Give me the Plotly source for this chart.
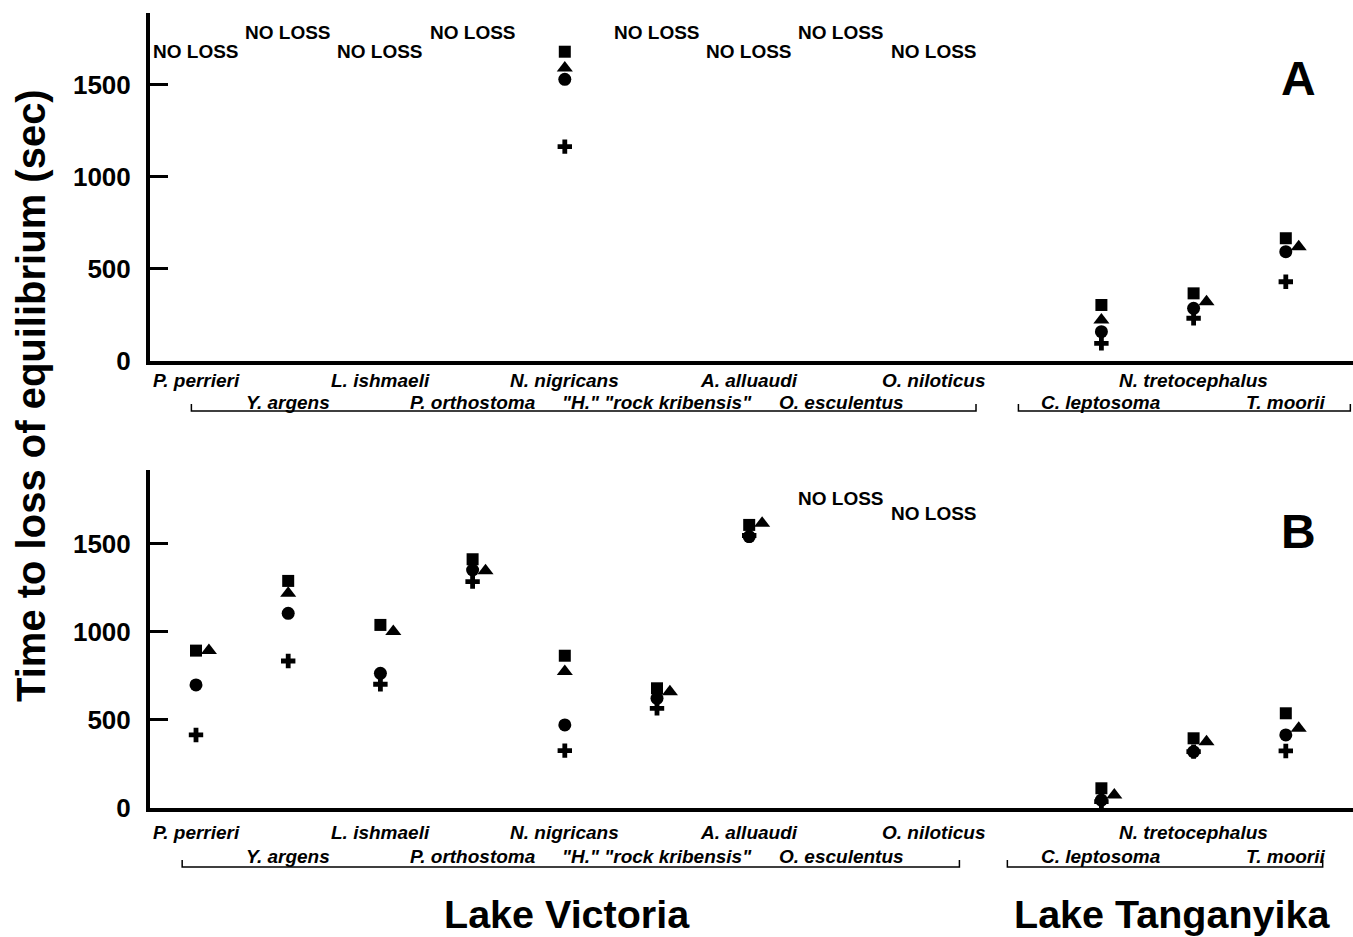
import plotly.graph_objects as go

# ---------------- data ----------------
species = ['P. perrieri', 'Y. argens', 'L. ishmaeli', 'P. orthostoma', 'N. nigricans',
           '"H." "rock kribensis"', 'A. alluaudi', 'O. esculentus', 'O. niloticus',
           'C. leptosoma', 'N. tretocephalus', 'T. moorii']
lake = ['Lake Victoria'] * 9 + ['Lake Tanganyika'] * 3

# Panel A (None = NO LOSS)
a_square   = [None, None, None, None, 1678, None, None, None, None, 304, 367, 666]
a_triangle = [None, None, None, None, 1590, None, None, None, None, 222, 322, 620]
a_circle   = [None, None, None, None, 1528, None, None, None, None, 159, 286, 593]
a_cross    = [None, None, None, None, 1163, None, None, None, None, 96, 232, 430]

# Panel B
b_square   = [894, 1290, 1040, 1413, 865, 680, 1608, None, None, 112, 396, 538]
b_triangle = [894, 1220, 1002, 1348, 775, 661, 1617, None, None, 74, 377, 453]
b_circle   = [699, 1106, 765, 1352, 472, 623, 1542, None, None, 45, 320, 415]
b_cross    = [415, 835, 703, 1286, 326, 566, 1548, None, None, 36, 320, 324]

yticks = [0, 500, 1000, 1500]

# ---------------- layout helpers ----------------
LAKE_GAP = 0.82
xpos = [i + (LAKE_GAP if lake[i] == 'Lake Tanganyika' else 0) for i in range(len(species))]
DODGE = 0.14          # sideways nudge for a triangle that would overlap another marker
OVERLAP = 50          # value distance (sec) considered overlapping

W, H = 1353, 937
ML, MR = 150, 0
PW = W - ML - MR
FONT = 'Liberation Sans, Arial, sans-serif'
X0_PX, UNIT_PX = 196.0, 92.2      # pixel of category 0, pixels per category

def py(p):  # screen pixel y -> paper
    return (H - p) / H

def px(p):  # screen pixel x -> paper
    return (p - ML) / PW

panels = [
    dict(series=[a_square, a_triangle, a_circle, a_cross], dom=(py(361), py(13)), rng=1888,
         nl_hi=1782, nl_lo=1678, row1=381, row2=402, br=411,
         pads=[(0.05, 0.46), (0.9, 0.7)], letter='A', let_y=79, xa='x', ya='y'),
    dict(series=[b_square, b_triangle, b_circle, b_cross], dom=(py(808), py(470)), rng=1920,
         nl_hi=1760, nl_lo=1674, row1=832, row2=856, br=867,
         pads=[(0.15, 0.28), (1.02, 0.4)], letter='B', let_y=531, xa='x2', ya='y2'),
]
symbols = ['square', 'triangle-up', 'circle', 'cross']
sizes = [12, 14, 13, 12]
names = ['Series 1', 'Series 2', 'Series 3', 'Series 4']

fig = go.Figure()
annotations = []
shapes = []
lab_font = dict(family=FONT, size=19, color='black')
noloss_font = dict(family=FONT, size=19, color='black')

for p in panels:
    sq, tri, cir, _ = p['series']
    for k, (s, sym, sz, nm) in enumerate(zip(p['series'], symbols, sizes, names)):
        xs, ys = [], []
        for i, v in enumerate(s):
            if v is None:
                continue
            x = xpos[i]
            if k == 1 and any(o[i] is not None and abs(o[i] - v) < OVERLAP for o in (sq, cir)):
                x += DODGE
            xs.append(x)
            ys.append(v)
        fig.add_trace(go.Scatter(x=xs, y=ys, mode='markers', name=nm, showlegend=False,
                                 xaxis=p['xa'], yaxis=p['ya'], cliponaxis=False,
                                 marker=dict(symbol=sym, size=sz, color='black',
                                             line=dict(width=0))))
    # NO LOSS labels
    for i in range(len(species)):
        if all(s[i] is None for s in p['series']):
            annotations.append(dict(x=xpos[i], y=p['nl_hi'] if i % 2 else p['nl_lo'],
                                    xref=p['xa'], yref=p['ya'], text='<b>NO LOSS</b>',
                                    xanchor='center', yanchor='middle',
                                    showarrow=False, font=noloss_font))
    # species labels (two staggered rows)
    for i, sp in enumerate(species):
        annotations.append(dict(x=xpos[i], y=py(p['row2'] if i % 2 else p['row1']),
                                xref=p['xa'], yref='paper', text='<b><i>%s</i></b>' % sp,
                                showarrow=False, font=lab_font, xanchor='center', yanchor='middle'))
    # lake brackets
    for lk, (lpad, rpad) in zip(['Lake Victoria', 'Lake Tanganyika'], p['pads']):
        idx = [i for i in range(len(species)) if lake[i] == lk]
        x0 = xpos[idx[0]] - lpad
        x1 = xpos[idx[-1]] + rpad
        yb, yt = py(p['br']), py(p['br'] - 7)
        shapes.append(dict(type='path', xref=p['xa'], yref='paper',
                           path='M %f,%f L %f,%f L %f,%f L %f,%f' % (x0, yt, x0, yb, x1, yb, x1, yt),
                           line=dict(color='black', width=1.5)))
    annotations.append(dict(x=px(1298), y=py(p['let_y']), xref='paper', yref='paper',
                            text='<b>%s</b>' % p['letter'], showarrow=False,
                            xanchor='center', yanchor='middle',
                            font=dict(family=FONT, size=48, color='black')))

# lake titles
for lk, cx in [('Lake Victoria', 567), ('Lake Tanganyika', 1172)]:
    annotations.append(dict(x=px(cx), y=py(914), xref='paper', yref='paper', text='<b>%s</b>' % lk,
                            showarrow=False, xanchor='center', yanchor='middle',
                            font=dict(family=FONT, size=39.5, color='black')))

# y title
annotations.append(dict(x=px(31), y=py(396), xref='paper', yref='paper',
                        text='<b>Time to loss of equilibrium (sec)</b>', textangle=-90,
                        showarrow=False, xanchor='center', yanchor='middle',
                        font=dict(family=FONT, size=40, color='black')))

x_lo = (150 - X0_PX) / UNIT_PX
x_hi = (1353 - X0_PX) / UNIT_PX
axis_common_x = dict(range=[x_lo, x_hi], showline=True, linewidth=4, linecolor='black', showgrid=False,
                     zeroline=False, showticklabels=False, ticks='', automargin=False)

def yax(dom, rng, anchor):
    return dict(domain=list(dom), range=[0, rng], showline=True, linewidth=4, linecolor='black',
                showgrid=False, zeroline=False, tickvals=yticks, automargin=False,
                ticktext=['<b>%d</b>' % v for v in yticks], ticks='inside', ticklen=18,
                tickwidth=3, tickcolor='black', ticklabelstandoff=10, anchor=anchor,
                tickfont=dict(family=FONT, size=26, color='black'))

fig.update_layout(
    width=W, height=H, margin=dict(l=ML, r=MR, t=0, b=0, pad=0, autoexpand=False),
    paper_bgcolor='white', plot_bgcolor='white', showlegend=False,
    xaxis=dict(**axis_common_x, domain=[0, 1], anchor='y'),
    yaxis=yax(panels[0]['dom'], panels[0]['rng'], 'x'),
    xaxis2=dict(**axis_common_x, domain=[0, 1], anchor='y2'),
    yaxis2=yax(panels[1]['dom'], panels[1]['rng'], 'x2'),
    annotations=annotations, shapes=shapes,
)

fig.write_html('out.html', config={'displayModeBar': False},
               post_script="document.body.style.margin='0';document.body.style.padding='0';"
                           "document.body.style.overflow='hidden';")
